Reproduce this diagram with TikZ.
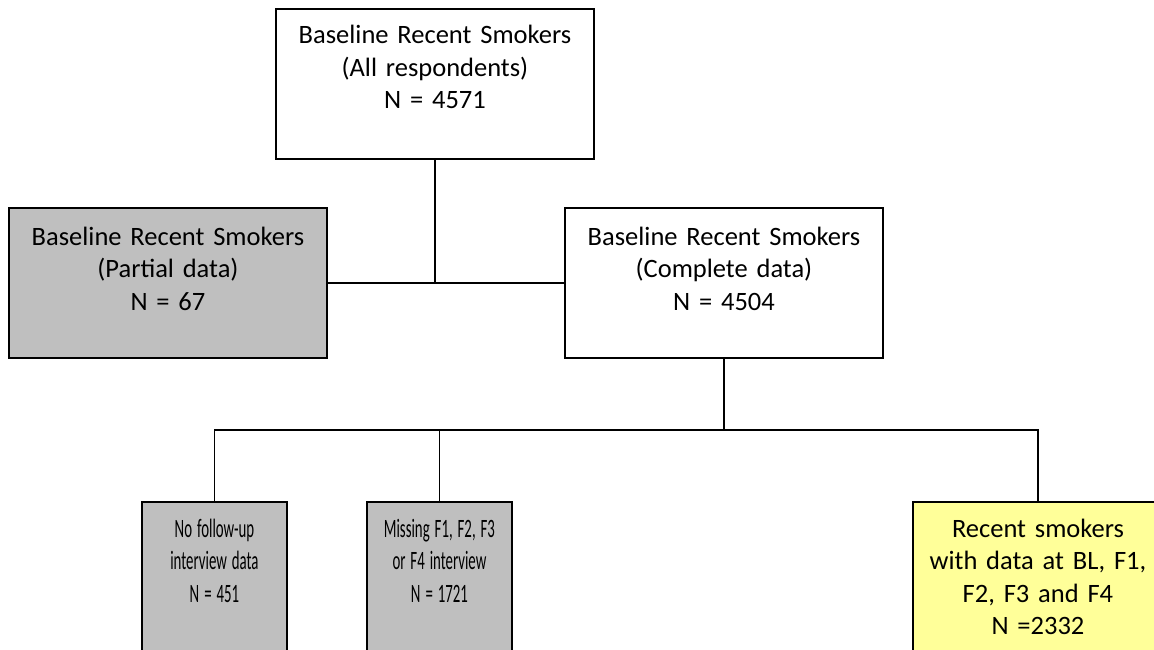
\documentclass[tikz,border=0pt]{standalone}
\usepackage{fontspec}
\usepackage{graphicx}
\setmainfont{Carlito}
\definecolor{boxgray}{RGB}{191,191,191}
\definecolor{boxyellow}{RGB}{255,255,153}
\newcommand{\cond}[1]{\scalebox{0.56}[1]{#1}}
\begin{document}
\begin{tikzpicture}[x=1pt,y=-1pt,
  boxnode/.style={draw=black,line width=1.9pt,rectangle,inner sep=0pt,anchor=north west},
  txt/.style={anchor=base,inner sep=0pt,align=center,font=\fontsize{26.5}{32.5}\selectfont},
  conn/.style={draw=black,line width=1.9pt}]
\useasboundingbox (0,0) rectangle (1154,650);
\clip (0,0) rectangle (1154,650);
% boxes
\node[boxnode,fill=white,minimum width=318pt,minimum height=150pt] (top) at (275,8) {};
\node[boxnode,fill=boxgray,minimum width=318pt,minimum height=150pt] (partial) at (8,207) {};
\node[boxnode,fill=white,minimum width=318pt,minimum height=150pt] (complete) at (564,207) {};
\node[boxnode,fill=boxgray,minimum width=145pt,minimum height=170pt] (nofollow) at (141,501) {};
\node[boxnode,fill=boxgray,minimum width=145pt,minimum height=170pt] (missing) at (366,501) {};
\node[boxnode,fill=boxyellow,minimum width=250pt,minimum height=170pt] (recent) at (912,501) {};
% texts (base = first line's baseline)
\node[txt,text width=310pt] (toptxt) at ([yshift=-36pt]top.north) {Baseline Recent Smokers\\(All respondents)\\N = 4571};
\node[txt,text width=310pt] (partialtxt) at ([yshift=-38pt]partial.north) {Baseline Recent Smokers\\(Partial data)\\N = 67};
\node[txt,text width=310pt] (completetxt) at ([yshift=-38pt]complete.north) {Baseline Recent Smokers\\(Complete data)\\N = 4504};
\node[txt,text width=140pt] (nofollowtxt) at ([yshift=-36pt]nofollow.north) {\cond{No follow-up}\\\cond{interview data}\\\cond{N = 451}};
\node[txt,text width=140pt] (missingtxt) at ([yshift=-36pt]missing.north) {\cond{Missing F1, F2, F3}\\\cond{or F4 interview}\\\cond{N = 1721}};
\node[txt,text width=245pt] (recenttxt) at ([yshift=-36pt]recent.north) {Recent smokers\\with data at BL, F1,\\F2, F3 and F4\\N =2332};
% connectors
\coordinate (j1) at (434,283);
\coordinate (j2) at (723,430);
\draw[conn] (top.south) -- (top.south |- j1);
\draw[conn] (partial.east |- j1) -- (complete.west |- j1);
\draw[conn] (complete.south) -- (complete.south |- j2);
\draw[conn] (nofollow.north) -- (nofollow.north |- j2) -- (recent.north |- j2) -- (recent.north);
\draw[conn] (missing.north |- j2) -- (missing.north);
\end{tikzpicture}
\end{document}
